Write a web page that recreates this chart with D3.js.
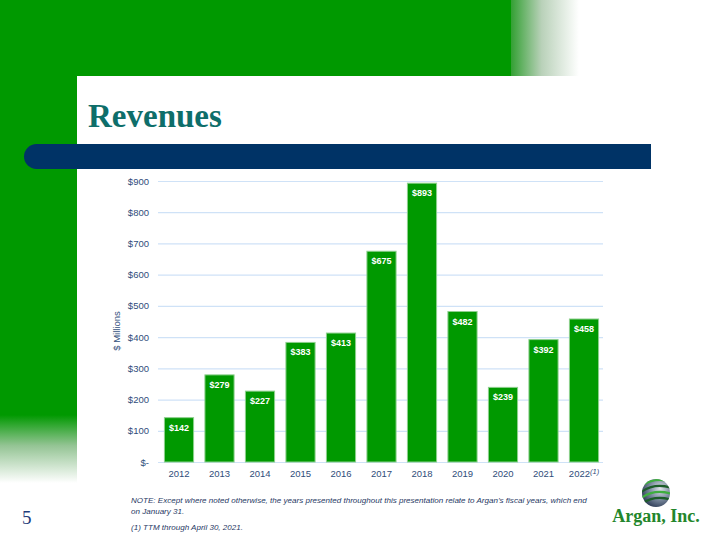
<!DOCTYPE html>
<html>
<head>
<meta charset="utf-8">
<script src="https://cdn.jsdelivr.net/npm/d3@7"></script>
<style>
  html, body { margin: 0; padding: 0; background: #ffffff; }
  svg { display: block; }
</style>
</head>
<body>
<script>
// ---- data ----
const years = ["2012","2013","2014","2015","2016","2017","2018","2019","2020","2021","2022"];
const revenues = [142, 279, 227, 383, 413, 675, 893, 482, 239, 392, 458];
const valueLabels = ["$142","$279","$227","$383","$413","$675","$893","$482","$239","$392","$458"];
const yTickValues = [0, 100, 200, 300, 400, 500, 600, 700, 800, 900];
const yTickLabels = ["$-","$100","$200","$300","$400","$500","$600","$700","$800","$900"];
const titleText = "Revenues";
const yAxisTitle = "$ Millions";
const footnotes = [
  "NOTE: Except where noted otherwise, the years presented throughout this presentation relate to Argan\u2019s fiscal years, which end",
  "on January 31.",
  "(1) TTM through April 30, 2021."
];
const pageNumber = "5";

const W = 720, H = 540;
const green = "#009900";
const svg = d3.select("body").append("svg").attr("width", W).attr("height", H);
const defs = svg.append("defs");

// gradients
const gTop = defs.append("linearGradient").attr("id", "gTop").attr("x1", 0).attr("x2", 1).attr("y1", 0).attr("y2", 0);
gTop.append("stop").attr("offset", 0).attr("stop-color", "#33a033");
gTop.append("stop").attr("offset", 0.45).attr("stop-color", "#b9d1b9");
gTop.append("stop").attr("offset", 1).attr("stop-color", "#ffffff");
const gLeft = defs.append("linearGradient").attr("id", "gLeft").attr("x1", 0).attr("x2", 0).attr("y1", 0).attr("y2", 1);
gLeft.append("stop").attr("offset", 0).attr("stop-color", green);
gLeft.append("stop").attr("offset", 0.45).attr("stop-color", "#94c494");
gLeft.append("stop").attr("offset", 1).attr("stop-color", "#ffffff");

// background decorations
svg.append("rect").attr("x", 0).attr("y", 0).attr("width", 511).attr("height", 76).attr("fill", green);
svg.append("rect").attr("x", 511).attr("y", 0).attr("width", 68).attr("height", 76).attr("fill", "url(#gTop)");
svg.append("rect").attr("x", 0).attr("y", 76).attr("width", 77).attr("height", 339).attr("fill", green);
svg.append("rect").attr("x", 0).attr("y", 415).attr("width", 77).attr("height", 68).attr("fill", "url(#gLeft)");

// title
svg.append("text").attr("x", 88).attr("y", 127)
  .attr("font-family", "'Liberation Serif', 'Times New Roman', serif")
  .attr("font-weight", "bold").attr("font-size", 33)
  .attr("fill", "#0e6e6a").text(titleText);

// blue bar with rounded left end
const bx0 = 24, bx1 = 651, by0 = 144, by1 = 169, br = (by1 - by0) / 2;
svg.append("path")
  .attr("d", `M${bx0 + br},${by0} L${bx1},${by0} L${bx1},${by1} L${bx0 + br},${by1} A${br},${br} 0 0 1 ${bx0 + br},${by0} Z`)
  .attr("fill", "#003366");

// ---- chart ----
const x = d3.scaleBand().domain(years).range([158.75, 604.25]).paddingInner(0.28).paddingOuter(0.14);
const y = d3.scaleLinear().domain([0, 900]).range([462, 181]);
const axisColor = "#2f4d7a";
const font = "Arial, 'Liberation Sans', sans-serif";

// gridlines
svg.append("g").selectAll("line").data(yTickValues).join("line")
  .attr("x1", 158).attr("x2", 603)
  .attr("y1", d => y(d) + 0.5).attr("y2", d => y(d) + 0.5)
  .attr("stroke", "#cfe2f7").attr("stroke-width", 1.2);

// y axis labels
const yAxis = svg.append("g").attr("transform", "translate(158,0)")
  .call(d3.axisLeft(y).tickValues(yTickValues).tickSize(0).tickPadding(9)
    .tickFormat((d, i) => yTickLabels[i]));
yAxis.select(".domain").remove();
yAxis.selectAll("text").attr("font-family", font).attr("font-size", 9.5).attr("fill", axisColor);

// x axis labels
const xAxis = svg.append("g").attr("transform", "translate(0,462)")
  .call(d3.axisBottom(x).tickSize(0).tickPadding(8));
xAxis.select(".domain").remove();
xAxis.selectAll("text").attr("font-family", font).attr("font-size", 9.5).attr("fill", axisColor);
xAxis.selectAll(".tick").filter(d => d === "2022").select("text")
  .append("tspan").attr("font-style", "italic").attr("font-size", 7.5).attr("dy", "-0.35em").text("(1)");

// bars
svg.append("g").selectAll("rect").data(revenues).join("rect")
  .attr("x", (d, i) => x(years[i]))
  .attr("y", d => y(d))
  .attr("width", x.bandwidth())
  .attr("height", d => y(0) - y(d))
  .attr("fill", green)
  .attr("stroke", "#8ed08e").attr("stroke-width", 1);

// value labels
svg.append("g").selectAll("text").data(revenues).join("text")
  .attr("x", (d, i) => x(years[i]) + x.bandwidth() / 2)
  .attr("y", d => y(d) + 13)
  .attr("text-anchor", "middle")
  .attr("font-family", font).attr("font-weight", "bold").attr("font-size", 9)
  .attr("fill", "#ffffff")
  .text((d, i) => valueLabels[i]);

// y axis title
svg.append("text")
  .attr("transform", "translate(120,331) rotate(-90)")
  .attr("text-anchor", "middle")
  .attr("font-family", font).attr("font-size", 9.5).attr("fill", axisColor)
  .text(yAxisTitle);

// footnotes
const fnY = [503, 514, 530];
svg.append("g").selectAll("text").data(footnotes).join("text")
  .attr("x", 131).attr("y", (d, i) => fnY[i])
  .attr("font-family", font).attr("font-style", "italic").attr("font-size", 8.05)
  .attr("fill", "#1f3864")
  .text(d => d);

// page number
svg.append("text").attr("x", 22).attr("y", 524)
  .attr("font-family", "'Liberation Serif', 'Times New Roman', serif")
  .attr("font-size", 19).attr("fill", "#1f3d7a").text(pageNumber);

// logo
const gx = 656, gy = 493, gr = 14;
const rg = defs.append("radialGradient").attr("id", "globe").attr("cx", 0.65).attr("cy", 0.35).attr("r", 0.75);
rg.append("stop").attr("offset", 0).attr("stop-color", "#dfe3ea");
rg.append("stop").attr("offset", 0.5).attr("stop-color", "#7d8ca0");
rg.append("stop").attr("offset", 1).attr("stop-color", "#26344f");
defs.append("clipPath").attr("id", "globeClip").append("circle").attr("cx", gx).attr("cy", gy).attr("r", gr);
svg.append("circle").attr("cx", gx).attr("cy", gy).attr("r", gr).attr("fill", "url(#globe)");
const stripes = svg.append("g").attr("clip-path", "url(#globeClip)");
[-9, -3, 3, 9].forEach((o, i) => {
  stripes.append("path")
    .attr("d", `M${gx - gr - 2},${gy + o + 3} Q${gx - 2},${gy + o - 8} ${gx + gr + 2},${gy + o - 2}`)
    .attr("fill", "none").attr("stroke", i % 2 === 0 ? "#3fae3f" : "#1d5d2a").attr("stroke-width", 2.2);
});
svg.append("text").attr("x", 656).attr("y", 522).attr("text-anchor", "middle")
  .attr("font-family", "'Liberation Serif', 'Times New Roman', serif")
  .attr("font-weight", "bold").attr("font-size", 18).attr("fill", "#23862b")
  .text("Argan, Inc.");
</script>
</body>
</html>
